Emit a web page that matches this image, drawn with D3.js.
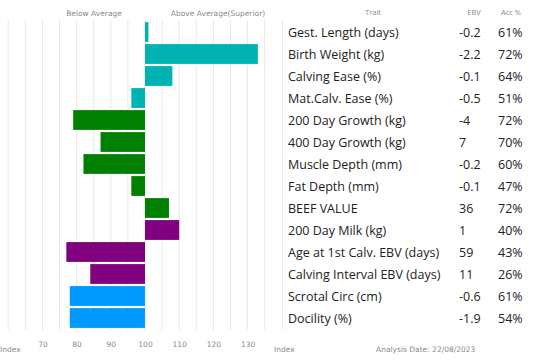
<!DOCTYPE html>
<html>
<head>
<meta charset="utf-8">
<script src="https://cdn.jsdelivr.net/npm/d3@7"></script>
<style>
  body { margin: 0; background: #fff; }
  svg { display: block; }
  .small { font-family: "DejaVu Sans", Verdana, sans-serif; font-size: 7.5px; fill: #8a8a8a; }
  .trait { font-family: "Open Sans", sans-serif; font-size: 12.5px; fill: #222; }
  .head { font-family: "Open Sans", sans-serif; font-size: 7.5px; fill: #8a8a8a; }
</style>
</head>
<body>
<div id="chart"></div>
<script>
// chart values
const traits = ["Gest. Length (days)", "Birth Weight (kg)", "Calving Ease (%)", "Mat.Calv. Ease (%)",
  "200 Day Growth (kg)", "400 Day Growth (kg)", "Muscle Depth (mm)", "Fat Depth (mm)", "BEEF VALUE",
  "200 Day Milk (kg)", "Age at 1st Calv. EBV (days)", "Calving Interval EBV (days)",
  "Scrotal Circ (cm)", "Docility (%)"];
const indexValues = [101, 133, 108, 96, 79, 87, 82, 96, 107, 110, 77, 84, 78, 78];
const ebvValues = ["-0.2", "-2.2", "-0.1", "-0.5", "-4", "7", "-0.2", "-0.1", "36", "1", "59", "11", "-0.6", "-1.9"];
const accValues = ["61%", "72%", "64%", "51%", "72%", "70%", "60%", "47%", "72%", "40%", "43%", "26%", "61%", "54%"];
const groups = ["birth", "birth", "birth", "birth", "growth", "growth", "growth", "growth", "growth",
  "maternal", "maternal", "maternal", "fertility", "fertility"];
const tickLabels = [70, 80, 90, 100, 110, 120, 130];
const analysisDate = "22/08/2023";

const width = 550, height = 362;
const colors = { birth: "#00b3b3", growth: "#008000", maternal: "#800080", fertility: "#0099ff" };

const svg = d3.select("#chart").append("svg")
  .attr("width", width)
  .attr("height", height);

const x = d3.scaleLinear().domain([60, 135]).range([8.2, 264.7]);
const y = d3.scaleBand().domain(traits).range([21, 329]).paddingInner(0.1).paddingOuter(0.05);

// vertical grid lines every 5 index points
svg.append("g")
  .selectAll("line")
  .data(d3.range(60, 136, 5))
  .enter().append("line")
    .attr("x1", d => x(d)).attr("x2", d => x(d))
    .attr("y1", 20).attr("y2", 330)
    .attr("stroke", "#e8e8e8")
    .attr("stroke-width", 1);

// table separator
svg.append("line")
  .attr("x1", 282.5).attr("x2", 282.5)
  .attr("y1", 20).attr("y2", 330)
  .attr("stroke", "#ececec");

// bars from the 100 index line
svg.append("g")
  .selectAll("rect")
  .data(traits)
  .enter().append("rect")
    .attr("x", (d, i) => Math.min(x(100), x(indexValues[i])))
    .attr("y", d => y(d))
    .attr("width", (d, i) => Math.abs(x(indexValues[i]) - x(100)))
    .attr("height", y.bandwidth())
    .attr("fill", (d, i) => colors[groups[i]]);

// headers
svg.append("text").attr("class", "small").attr("x", 94).attr("y", 16)
  .attr("text-anchor", "middle").text("Below Average");
svg.append("text").attr("class", "small").attr("x", 218).attr("y", 16)
  .attr("text-anchor", "middle").text("Above Average(Superior)");
svg.append("text").attr("class", "head").attr("x", 373).attr("y", 15)
  .attr("text-anchor", "middle").text("Trait");
svg.append("text").attr("class", "head").attr("x", 474).attr("y", 15)
  .attr("text-anchor", "middle").text("EBV");
svg.append("text").attr("class", "head").attr("x", 511).attr("y", 15)
  .attr("text-anchor", "middle").text("Acc %");

// table rows
const rows = svg.append("g")
  .selectAll("g")
  .data(traits)
  .enter().append("g")
    .attr("transform", d => "translate(0," + (y(d) + y.bandwidth() / 2) + ")");
rows.append("text").attr("class", "trait").attr("x", 288).attr("dy", "0.36em").text(d => d);
rows.append("text").attr("class", "trait").attr("x", 459).attr("dy", "0.36em").text((d, i) => ebvValues[i]);
rows.append("text").attr("class", "trait").attr("x", 498).attr("dy", "0.36em").text((d, i) => accValues[i]);

// bottom index axis
const axis = svg.append("g")
  .attr("transform", "translate(0,342)")
  .call(d3.axisBottom(x).tickValues(tickLabels).tickSize(0).tickPadding(0));
axis.select(".domain").remove();
axis.selectAll("text").attr("class", "small").attr("font-family", null).attr("font-size", null);

svg.append("text").attr("class", "small").attr("x", 0).attr("y", 352).text("Index");
svg.append("text").attr("class", "small").attr("x", 274).attr("y", 352).text("Index");
svg.append("text").attr("class", "small").attr("x", 376).attr("y", 352).text("Analysis Date: " + analysisDate);
</script>
</body>
</html>
